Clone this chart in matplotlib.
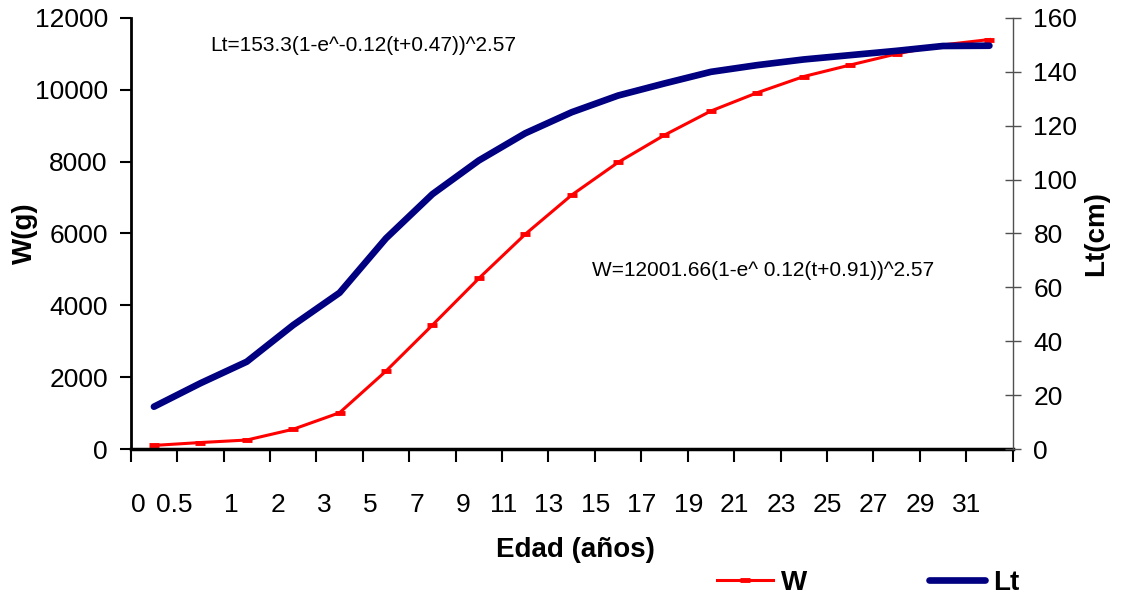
import numpy as np
import matplotlib
matplotlib.use('Agg')
import matplotlib.pyplot as plt
from matplotlib.transforms import ScaledTranslation

# edad (años) y valores
ages = ['0', '0.5', '1', '2', '3', '5', '7', '9', '11', '13', '15',
        '17', '19', '21', '23', '25', '27', '29', '31']
weight = [100, 180, 250, 550, 1010, 2170, 3450, 4750, 5980, 7070, 7980,
          8740, 9410, 9920, 10370, 10690, 11000, 11250, 11400]
length = [15.7, 24.4, 32.4, 46.0, 58.0, 78.2, 94.6, 107.1, 117.2, 125.0, 131.2,
          135.7, 140.0, 142.5, 144.6, 146.2, 147.8, 149.6, 149.7]

eq_lt = 'Lt=153.3(1-e^-0.12(t+0.47))^2.57'
eq_w = 'W=12001.66(1-e^ 0.12(t+0.91))^2.57'

plt.rcParams['font.family'] = ['Liberation Sans', 'DejaVu Sans']

fig = plt.figure(figsize=(11.22, 5.99), dpi=100)
ax = fig.add_axes([0.1165, 0.2504, 0.786, 0.7196])
ax2 = ax.twinx()

x = np.arange(len(ages))
l1, = ax.plot(x, weight, color='#FF0000', lw=2.2, marker='_', ms=7, mew=3.5, label='W')
l2, = ax2.plot(x, length, color='#000080', lw=4.8, solid_capstyle='round', label='Lt')

ax.set_xlim(-0.5, len(ages) - 0.5)
ax.set_ylim(0, 12000)
ax.set_yticks(np.arange(0, 12001, 2000))
ax2.set_ylim(0, 160)
ax2.set_yticks(np.arange(0, 161, 20))

# ticks between categories, labels under each category
ax.set_xticks(np.arange(-0.5, len(ages)), [''] * (len(ages) + 1))
ax.set_xticks(x, ages, minor=True)
ax.tick_params(axis='x', which='major', length=9, width=1.5, direction='out')
ax.tick_params(axis='x', which='minor', length=0, pad=32, labelsize=19)
offset = ScaledTranslation(-0.08, 0, fig.dpi_scale_trans)
for lab in ax.get_xticklabels(minor=True):
    lab.set_horizontalalignment('right')
    lab.set_transform(lab.get_transform() + offset)

ax.tick_params(axis='y', length=8, width=1.5, pad=8.5, labelsize=19)
ax2.tick_params(axis='y', length=12, width=1, direction='inout', pad=9, labelsize=19,
                color='#505050')

for s in ['top', 'right']:
    ax.spines[s].set_visible(False)
for s in ['top', 'left', 'bottom']:
    ax2.spines[s].set_visible(False)
ax.spines['left'].set_linewidth(2)
ax.spines['bottom'].set_linewidth(2.5)
ax2.spines['right'].set_color('#505050')
ax2.spines['right'].set_linewidth(1)

ax.set_ylabel('W(g)', fontsize=20, fontweight='bold')
ax.yaxis.set_label_coords(-0.105, 0.5)
ax2.set_ylabel('Lt(cm)', fontsize=20, fontweight='bold')
ax2.yaxis.set_label_coords(1.08, 0.5)
ax.set_xlabel('Edad (años)', fontsize=20, fontweight='bold')
ax.xaxis.set_label_coords(0.504, -0.204)

ax.text(0.09, 0.937, eq_lt, transform=ax.transAxes, fontsize=15, va='center')
ax.text(0.5227, 0.415, eq_w, transform=ax.transAxes, fontsize=15, va='center')

fig.legend([l1, l2], ['W', 'Lt'], loc='center left', bbox_to_anchor=(0.639, 0.027),
           ncol=2, frameon=False, prop={'weight': 'bold', 'size': 20},
           handlelength=2.0, handletextpad=0.3, columnspacing=4.4,
           borderpad=0, borderaxespad=0)

fig.savefig('out.png', dpi=100)
